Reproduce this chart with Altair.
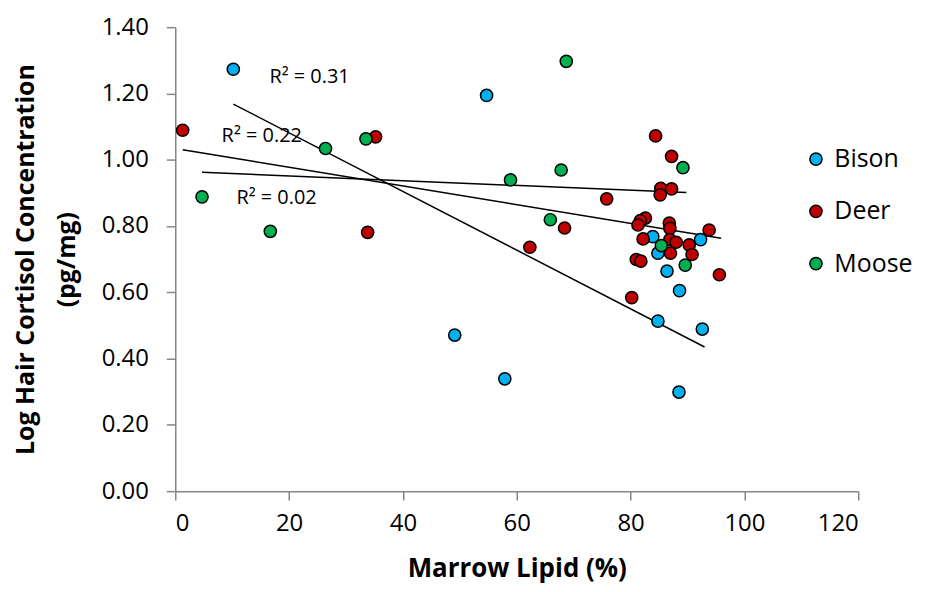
import altair as alt
import pandas as pd

# ---- data ----
bison_x = [10.2, 54.7, 49.1, 57.9, 88.5, 92.6, 84.8, 88.6, 86.4, 84.8, 83.9, 92.3]
bison_y = [1.273, 1.194, 0.471, 0.339, 0.299, 0.489, 0.513, 0.605, 0.664, 0.718, 0.768, 0.759]

deer_x = [1.3, 35.2, 33.8, 62.3, 68.4, 75.8, 80.2, 84.4, 87.2, 85.3, 87.2, 85.2, 82.6, 81.7,
          81.3, 86.8, 86.9, 93.8, 82.2, 86.9, 88.0, 90.3, 87.0, 90.8, 81.0, 81.8, 95.6]
deer_y = [1.089, 1.069, 0.781, 0.736, 0.794, 0.882, 0.584, 1.072, 1.010, 0.914, 0.912, 0.894,
          0.824, 0.816, 0.803, 0.809, 0.793, 0.788, 0.761, 0.759, 0.751, 0.743, 0.718, 0.714,
          0.699, 0.694, 0.653]

moose_x = [4.7, 16.7, 26.4, 33.5, 58.9, 67.8, 68.7, 65.9, 89.2, 85.4, 89.6]
moose_y = [0.888, 0.784, 1.034, 1.063, 0.939, 0.969, 1.297, 0.819, 0.976, 0.741, 0.682]

species = ["Bison", "Deer", "Moose"]
colors = ["#00B0F0", "#C00000", "#00B050"]

# linear trendlines as drawn (start and end of each)
trend_species = ["Bison", "Deer", "Moose"]
trend_x0 = [10.2, 1.3, 4.7]
trend_y0 = [1.168, 1.030, 0.962]
trend_x1 = [93.0, 95.9, 89.8]
trend_y1 = [0.435, 0.763, 0.901]

r2_labels = ["R² = 0.31", "R² = 0.22", "R² = 0.02"]
r2_x = [23.6, 15.2, 17.8]
r2_y = [1.251, 1.072, 0.883]

x_ticks = [0, 20, 40, 60, 80, 100, 120]
y_ticks = [0.0, 0.2, 0.4, 0.6, 0.8, 1.0, 1.2, 1.4]

rows = []
for name, xs, ys in [("Bison", bison_x, bison_y), ("Deer", deer_x, deer_y), ("Moose", moose_x, moose_y)]:
    for a, b in zip(xs, ys):
        rows.append({"lipid": a, "cortisol": b, "species": name})
df = pd.DataFrame(rows)

trows = []
for s, a0, b0, a1, b1 in zip(trend_species, trend_x0, trend_y0, trend_x1, trend_y1):
    trows.append({"species": s, "lipid": a0, "cortisol": b0})
    trows.append({"species": s, "lipid": a1, "cortisol": b1})
tdf = pd.DataFrame(trows)

ann = pd.DataFrame({"label": r2_labels, "x": r2_x, "y": r2_y})

FONT = "Open Sans"

xscale = alt.Scale(domain=[0, 120], nice=False, zero=True)
yscale = alt.Scale(domain=[0, 1.4], nice=False, zero=True)

xenc = alt.X("lipid:Q", scale=xscale,
             axis=alt.Axis(values=x_ticks, title="Marrow Lipid (%)", format="d",
                           grid=False, tickSize=9, labelPadding=12, titlePadding=20,
                           titleFontSize=26))
yenc = alt.Y("cortisol:Q", scale=yscale,
             axis=alt.Axis(values=y_ticks, title=["Log Hair Cortisol Concentration", "(pg/mg)"],
                           format=".2f", grid=False, tickSize=9, labelPadding=18,
                           titlePadding=22, titleLineHeight=41, titleFontSize=25))

points = alt.Chart(df).mark_circle(size=150, opacity=1, stroke="black", strokeWidth=1.5).encode(
    x=xenc, y=yenc,
    color=alt.Color("species:N", scale=alt.Scale(domain=species, range=colors),
                    legend=alt.Legend(title=None, orient="none", legendX=631, legendY=120,
                                      symbolType="circle", symbolSize=150,
                                      symbolStrokeColor="black", symbolStrokeWidth=1.5,
                                      labelFontSize=25, labelFont=FONT, labelColor="black",
                                      labelOffset=6, rowPadding=26.5, padding=0,
                                      symbolOpacity=1))
)

trend = alt.Chart(tdf).mark_line(color="black", strokeWidth=1.5).encode(
    x=alt.X("lipid:Q", scale=xscale), y=alt.Y("cortisol:Q", scale=yscale), detail="species:N"
)

labels = alt.Chart(ann).mark_text(font=FONT, fontSize=20, color="black", align="center",
                                  baseline="middle").encode(
    x=alt.X("x:Q", scale=xscale), y=alt.Y("y:Q", scale=yscale), text="label:N"
)

chart = alt.layer(trend, points, labels).properties(
    width=686, height=466, padding={"left": 5, "top": 6, "right": 5, "bottom": 0}
).configure(background="white").configure_view(stroke=None).configure_axis(
    labelFont=FONT, labelFontSize=24, labelColor="black",
    titleFont=FONT, titleFontWeight="bold", titleColor="black",
    domainColor="#868686", tickColor="#868686", domainWidth=1.5, tickWidth=1.5
)

chart.save("out.html", embed_options={"renderer": "svg", "actions": False})
